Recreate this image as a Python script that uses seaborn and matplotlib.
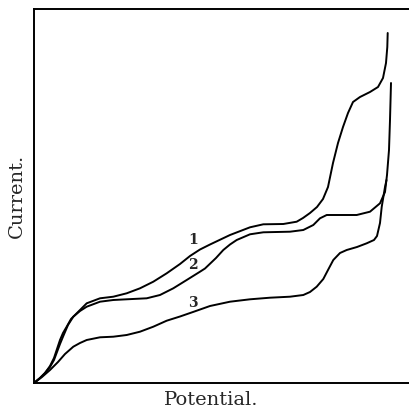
import numpy as np
import pandas as pd
import matplotlib
matplotlib.use('Agg')
import matplotlib.pyplot as plt
import seaborn as sns

# curves (units: x from left axis, y up from bottom axis)
c1_x = [0, 6, 11, 16, 20, 23, 26, 29, 32.7, 37, 42.7, 52.7, 66, 79.3, 92.7, 106, 119.3, 132.7, 146,
        156, 166, 176, 196, 216, 229.3, 249.3, 262.7, 269, 276, 283, 289, 294, 299, 304, 309, 314,
        319, 326, 336, 344, 349, 352, 353.3, 353.7]
c1_y = [0, 5, 10, 17, 25, 34, 43, 50, 56.3, 64, 69.7, 79.7, 84.7, 86.3, 89.7, 94.7, 101.3, 109.7, 119,
        127, 133.5, 138.5, 148, 155.7, 158.7, 159, 161.3, 165, 170, 176, 184, 196, 220, 240, 256, 270,
        281, 286, 291, 296, 305, 320, 336, 350]

c2_x = [0, 6, 11, 16, 20, 23, 26, 29.3, 34, 39.3, 46, 52.7, 66, 79.3, 92.7, 112.7, 126, 139.3, 152.7,
        166, 171, 182, 189.3, 196, 202.7, 216, 229.3, 256, 269.3, 279.3, 286, 292.7, 301, 322.7, 336,
        346, 351, 353, 355, 356, 357]
c2_y = [0, 5, 10, 16, 23, 31, 39, 47, 58, 66.3, 72, 76.3, 81.3, 83, 83.7, 84.7, 88, 94.7, 103,
        111.3, 114.5, 125, 133, 138.5, 143, 148.7, 150.7, 151.3, 153, 158, 164.7, 168, 168, 168, 171.3,
        179.7, 191, 208, 233, 263, 300]

c3_x = [0, 8, 16, 24, 31, 39.3, 46, 52.7, 66, 79.3, 92.7, 106, 119.3, 132.7, 146, 159, 176, 196, 216,
        236, 256, 269.3, 276, 282.7, 289.3, 294, 299.3, 306, 312.7, 323, 332.7, 340, 343, 346, 347.7,
        351, 352.5]
c3_y = [0, 6, 13, 21, 29, 36.3, 40, 43, 45.7, 46.3, 48, 51.3, 56.3, 62.3, 66.5, 71, 77, 81.3, 83.7,
        85.3, 86.3, 88, 91, 96.3, 104, 113, 123, 130, 133, 136, 139.7, 143, 147, 160, 176,
        196, 203]

labels = ['1', '2', '3']
label_x = [158.7, 158.7, 158.7]
label_y = [143.5, 118, 80.3]

sns.set_style('white')
plt.rcParams['font.family'] = ['DejaVu Serif']

fig = plt.figure(figsize=(4.1, 4.09), dpi=100)
ax = fig.add_axes([34 / 410, 26 / 409, 1 - 34 / 410, 374 / 409])

for xs, ys in [(c1_x, c1_y), (c2_x, c2_y), (c3_x, c3_y)]:
    df = pd.DataFrame({'x': xs, 'y': ys})
    sns.lineplot(data=df, x='x', y='y', sort=False, estimator=None, color='black', lw=1.4, ax=ax)

for t, lx, ly in zip(labels, label_x, label_y):
    ax.text(lx, ly, t, fontsize=10, fontweight='bold', ha='center', va='center')

ax.set_xlim(0, 376)
ax.set_ylim(0, 374)
ax.set_xticks([])
ax.set_yticks([])
ax.spines['right'].set_visible(False)
for s in ['left', 'top', 'bottom']:
    ax.spines[s].set_color('black')
    ax.spines[s].set_linewidth(1.4)
ax.set_xlabel('Potential.', fontsize=14)
ax.set_ylabel('Current.', fontsize=14)
ax.xaxis.set_label_coords(177 / 376, -0.022)
ax.yaxis.set_label_coords(-0.022, 0.5)

fig.savefig('out.png', dpi=100)
